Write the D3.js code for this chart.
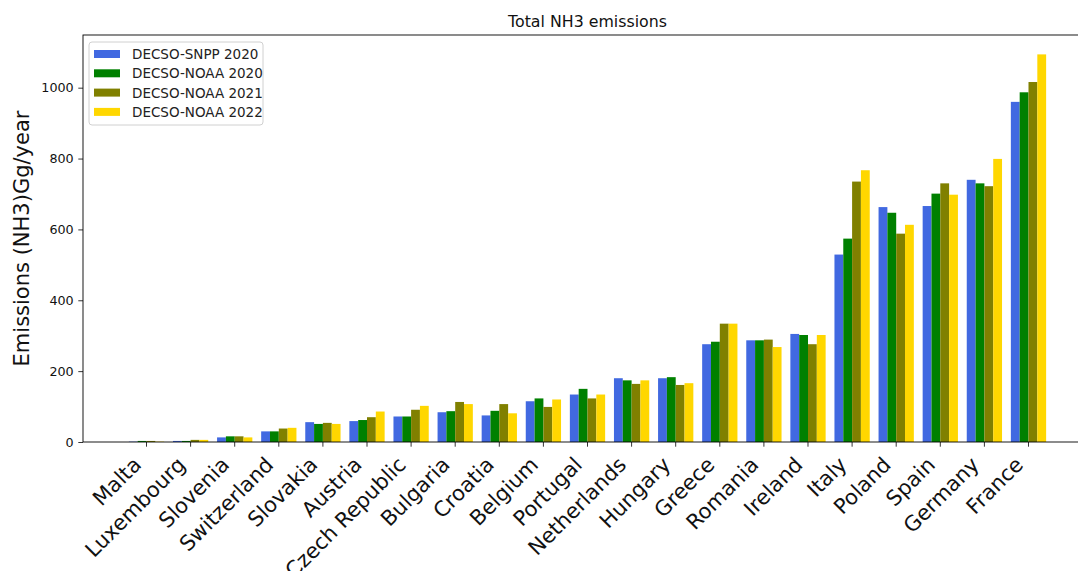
<!DOCTYPE html>
<html>
<head>
<meta charset="utf-8">
<script src="https://cdn.jsdelivr.net/npm/d3@7"></script>
<style>
  body { margin: 0; background: #fff; }
  svg { display: block; }
  svg text { font-family: "DejaVu Sans", sans-serif; }
</style>
</head>
<body>
<svg width="1078" height="571"></svg>
<script>
const countries = [
  "Malta", "Luxembourg", "Slovenia", "Switzerland", "Slovakia", "Austria",
  "Czech Republic", "Bulgaria", "Croatia", "Belgium", "Portugal", "Netherlands",
  "Hungary", "Greece", "Romania", "Ireland", "Italy", "Poland", "Spain",
  "Germany", "France"
];

const seriesNames = ["DECSO-SNPP 2020", "DECSO-NOAA 2020", "DECSO-NOAA 2021", "DECSO-NOAA 2022"];
const seriesColors = ["#4169e1", "#008000", "#808000", "#ffd700"];

const snpp2020 = [1, 3, 13, 30, 56, 59, 72, 84, 75, 115, 134, 180, 180, 276, 287, 305, 529, 663, 666, 740, 960];
const noaa2020 = [3, 3, 16, 30, 51, 62, 72, 87, 88, 123, 150, 174, 183, 283, 287, 302, 574, 647, 701, 730, 987];
const noaa2021 = [3, 6, 16, 38, 54, 70, 91, 113, 107, 99, 123, 164, 161, 334, 289, 276, 735, 588, 730, 722, 1016];
const noaa2022 = [1, 6, 13, 40, 51, 86, 102, 107, 81, 120, 134, 174, 166, 334, 268, 302, 767, 613, 698, 799, 1094];

const yTicks = [0, 200, 400, 600, 800, 1000];

const allSeries = [snpp2020, noaa2020, noaa2021, noaa2022];
const rows = countries.map((c, i) => ({
  country: c,
  values: allSeries.map((s, j) => ({ key: seriesNames[j], value: s[i] }))
}));

const svg = d3.select("svg");
const margin = { top: 35, right: -14, bottom: 129, left: 83 };
const W = 1078, H = 571;
const plotLeft = margin.left, plotRight = W - margin.right;
const plotTop = margin.top, plotBottom = H - margin.bottom;

const x = d3.scaleBand()
  .domain(countries)
  .range([plotLeft, plotRight])
  .paddingInner(0.2)
  .paddingOuter(1.04);

const xInner = d3.scaleBand()
  .domain(seriesNames)
  .range([0, x.bandwidth()]);

const color = d3.scaleOrdinal().domain(seriesNames).range(seriesColors);

const yMax = d3.max(allSeries, s => d3.max(s)) * 1.05;
const y = d3.scaleLinear()
  .domain([0, yMax])
  .range([plotBottom, plotTop]);

// bars
const groups = svg.append("g")
  .selectAll("g")
  .data(rows)
  .join("g")
    .attr("transform", d => `translate(${x(d.country)},0)`);

groups.selectAll("rect")
  .data(d => d.values)
  .join("rect")
    .attr("x", d => xInner(d.key))
    .attr("y", d => y(d.value))
    .attr("width", xInner.bandwidth())
    .attr("height", d => y(0) - y(d.value))
    .attr("fill", d => color(d.key));

// axes
const xAxis = svg.append("g")
  .attr("transform", `translate(0,${plotBottom})`)
  .call(d3.axisBottom(x).tickSize(4.7).tickSizeOuter(0).tickPadding(4.7));
xAxis.attr("font-family", null);
xAxis.select(".domain").remove();
xAxis.selectAll(".tick line").attr("stroke", "#000").attr("stroke-width", 0.8);
xAxis.selectAll(".tick text")
  .attr("font-size", "21px")
  .attr("fill", "#111")
  .attr("text-anchor", "end")
  .attr("dy", null)
  .attr("y", null)
  .attr("transform", "translate(-4,24) rotate(-45)");

const yAxis = svg.append("g")
  .attr("transform", `translate(${plotLeft},0)`)
  .call(d3.axisLeft(y).tickValues(yTicks).tickFormat(d3.format("d")).tickSize(4.7).tickPadding(4.7));
yAxis.attr("font-family", null);
yAxis.select(".domain").remove();
yAxis.selectAll(".tick line").attr("stroke", "#000").attr("stroke-width", 0.8);
yAxis.selectAll(".tick text").attr("font-size", "12.7px").attr("fill", "#111");

// frame
svg.append("rect")
  .attr("x", plotLeft)
  .attr("y", plotTop)
  .attr("width", plotRight - plotLeft)
  .attr("height", plotBottom - plotTop)
  .attr("fill", "none")
  .attr("stroke", "#000")
  .attr("stroke-width", 0.9);

// title + y label
svg.append("text")
  .attr("x", (plotLeft + plotRight) / 2)
  .attr("y", 27)
  .attr("text-anchor", "middle")
  .attr("font-size", "15.8px")
  .attr("fill", "#111")
  .text("Total NH3 emissions");

svg.append("text")
  .attr("transform", `translate(29,${(plotTop + plotBottom) / 2}) rotate(-90)`)
  .attr("text-anchor", "middle")
  .attr("font-size", "21px")
  .attr("fill", "#111")
  .text("Emissions (NH3)Gg/year");

// legend
const legend = svg.append("g").attr("transform", "translate(89,42)");
legend.append("rect")
  .attr("width", 174)
  .attr("height", 83)
  .attr("rx", 3)
  .attr("fill", "#fff")
  .attr("fill-opacity", 0.8)
  .attr("stroke", "#d0d0d0");

seriesNames.forEach((name, i) => {
  const row = legend.append("g").attr("transform", `translate(5,${8 + i * 19.3})`);
  row.append("rect")
    .attr("width", 26)
    .attr("height", 8)
    .attr("fill", color(name));
  row.append("text")
    .attr("x", 38)
    .attr("y", 4)
    .attr("dominant-baseline", "central")
    .attr("font-size", "13.5px")
    .attr("fill", "#222")
    .text(name);
});
</script>
</body>
</html>
